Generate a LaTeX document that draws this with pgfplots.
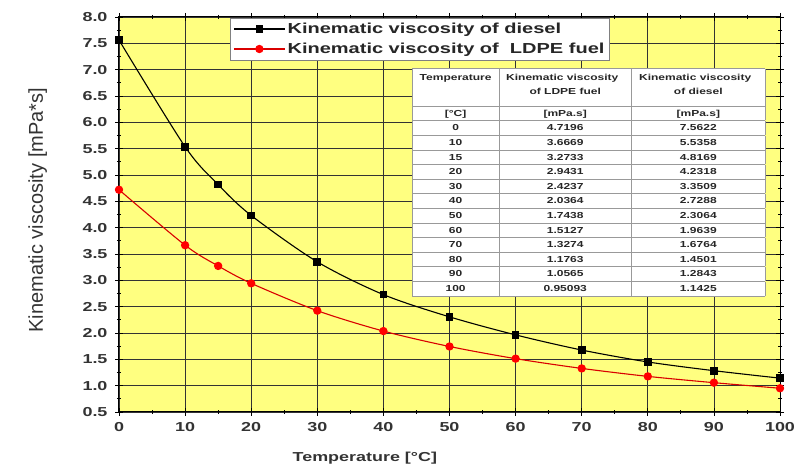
\documentclass[border=0pt]{standalone}
\usepackage{pgfplots}
\pgfplotsset{compat=1.18}
\usepackage{array}
\usepackage{colortbl}
\usepackage{fontspec}
\setmainfont{Liberation Sans}
\definecolor{bgyellow}{RGB}{255,255,128}
\newcommand\T[1]{\scalebox{1.38}[1]{#1}}
\newcommand\Strut{\rule[-4.2pt]{0pt}{13.5pt}}
\begin{document}
\begin{tikzpicture}
\begin{axis}[name=ax,
  scale only axis, width=661pt, height=395pt,
  xmin=0, xmax=100, ymin=0.5, ymax=8.0,
  xtick distance=10, ytick distance=0.5,
  minor x tick num=1, minor y tick num=1,
  tick align=center, major tick length=8pt, minor tick length=4pt,
  every tick/.style={black, line width=0.8pt},
  axis line style={black, line width=1pt},
  axis background/.style={fill=bgyellow},
  grid=major, major grid style={black!80, line width=0.7pt},
  /pgf/number format/assume math mode=true,
  xticklabel={\T{\pgfmathprintnumber{\tick}}},
  yticklabel={\T{\pgfmathprintnumber[fixed,fixed zerofill,precision=1]{\tick}}},
  ticklabel style={font=\bfseries\fontsize{13}{15}\selectfont, text=black!80},
  yticklabel style={xshift=-4pt},
  xticklabel style={yshift=-3pt},
  xlabel={\T{\bfseries Temperature [°C]}},
  ylabel={Kinematic viscosity [mPa*s]},
  xlabel style={font=\fontsize{13}{16}\selectfont, text=black!80, at={(axis description cs:0.372,-0.117)}, anchor=center},
  ylabel style={font=\fontsize{20}{22}\selectfont, text=black!80, at={(axis description cs:-0.123,0.511)}, anchor=center},
  clip=false,
  legend style={at={(0.168,0.998)}, anchor=north west, draw=gray, fill=white, font=\bfseries\fontsize{14.5}{17}\selectfont, text=black!85, inner sep=3pt, row sep=4pt},
  legend cell align=left,
  legend image code/.code={\draw[mark repeat=2,mark phase=2] plot coordinates {(0cm,0cm) (0.9cm,0cm) (1.8cm,0cm)};},
]
\addplot[black, line width=1.1pt, smooth, mark=square*, mark size=3.3pt, mark options={solid,fill=black}] coordinates {
(0,7.5622) (10,5.5358) (15,4.8169) (20,4.2318) (30,3.3509) (40,2.7288) (50,2.3064) (60,1.9639) (70,1.6764) (80,1.4501) (90,1.2843) (100,1.1425)};
\addlegendentry{\T{Kinematic viscosity of diesel}}
\addplot[red!85!black, line width=1.1pt, smooth, mark=*, mark size=3.6pt, mark options={solid,fill=red,draw=red}] coordinates {
(0,4.7196) (10,3.6669) (15,3.2733) (20,2.9431) (30,2.4237) (40,2.0364) (50,1.7438) (60,1.5127) (70,1.3274) (80,1.1763) (90,1.0565) (100,0.95093)};
\addlegendentry{\T{Kinematic viscosity of \ LDPE fuel}}
\node[anchor=north west, inner sep=0pt, fill=white, font=\bfseries\fontsize{8.7}{14}\selectfont, text=black!85] at (axis cs:44.3,7.03) {%
\arrayrulecolor{gray!80}\setlength{\arrayrulewidth}{0.6pt}\setlength{\tabcolsep}{1pt}%
\begin{tabular}{|>{\centering\arraybackslash}p{84pt}|>{\centering\arraybackslash}p{130pt}|>{\centering\arraybackslash}p{131pt}|}
\hline
\rule{0pt}{12pt}\T{Temperature}\rule[-25pt]{0pt}{12pt} & \rule{0pt}{12pt}\T{Kinematic viscosity}\newline\T{of LDPE fuel} & \rule{0pt}{12pt}\T{Kinematic viscosity}\newline\T{of diesel}\\ \hline
\Strut\T{[°C]} & \T{[mPa.s]} & \T{[mPa.s]}\\ \hline
\Strut\T{0} & \T{4.7196} & \T{7.5622}\\ \hline
\Strut\T{10} & \T{3.6669} & \T{5.5358}\\ \hline
\Strut\T{15} & \T{3.2733} & \T{4.8169}\\ \hline
\Strut\T{20} & \T{2.9431} & \T{4.2318}\\ \hline
\Strut\T{30} & \T{2.4237} & \T{3.3509}\\ \hline
\Strut\T{40} & \T{2.0364} & \T{2.7288}\\ \hline
\Strut\T{50} & \T{1.7438} & \T{2.3064}\\ \hline
\Strut\T{60} & \T{1.5127} & \T{1.9639}\\ \hline
\Strut\T{70} & \T{1.3274} & \T{1.6764}\\ \hline
\Strut\T{80} & \T{1.1763} & \T{1.4501}\\ \hline
\Strut\T{90} & \T{1.0565} & \T{1.2843}\\ \hline
\Strut\T{100} & \T{0.95093} & \T{1.1425}\\ \hline
\end{tabular}};
\end{axis}
\pgfresetboundingbox
\path (ax.south west) +(-119pt,-59pt);
\path (ax.north east) +(15pt,17pt);
\end{tikzpicture}
\end{document}
